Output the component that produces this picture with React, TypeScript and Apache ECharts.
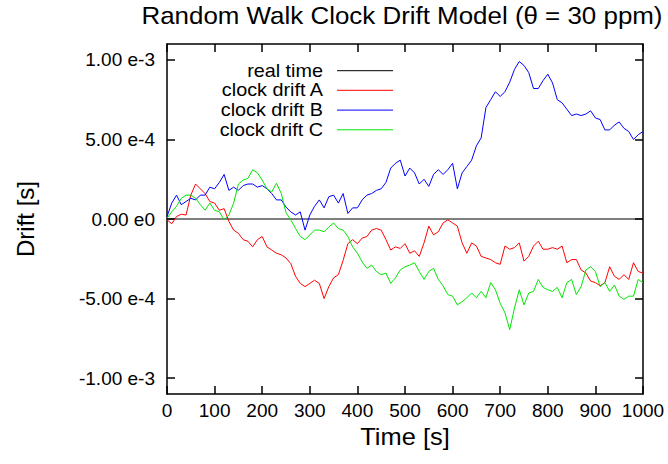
import React, { useEffect, useRef } from "react";
import * as echarts from "echarts";

const TIME_S = [
  0, 10, 20, 30, 40, 50, 60, 70, 80, 90,
  100, 110, 120, 130, 140, 150, 160, 170, 180, 190,
  200, 210, 220, 230, 240, 250, 260, 270, 280, 290,
  300, 310, 320, 330, 340, 350, 360, 370, 380, 390,
  400, 410, 420, 430, 440, 450, 460, 470, 480, 490,
  500, 510, 520, 530, 540, 550, 560, 570, 580, 590,
  600, 610, 620, 630, 640, 650, 660, 670, 680, 690,
  700, 710, 720, 730, 740, 750, 760, 770, 780, 790,
  800, 810, 820, 830, 840, 850, 860, 870, 880, 890,
  900, 910, 920, 930, 940, 950, 960, 970, 980, 990,
  1000,
];

// drift values in units of 1e-4 s
const DRIFT_A = [
  -0.05, -0.3, 0.15, 0.3, 0.25, 1.5, 2.2, 1.9, 1.6, 1.1,
  1.0, 0.55, 0.65, -0.15, -0.7, -0.9, -1.3, -1.4, -1.75, -1.3,
  -1.1, -1.75, -1.95, -2.15, -2.25, -2.45, -2.8, -3.6, -4.05, -4.25,
  -4.05, -3.85, -4.05, -5.0, -4.25, -3.7, -3.5, -2.6, -1.55, -1.3,
  -1.55, -1.2, -1.1, -0.7, -0.6, -0.7, -1.3, -1.95, -1.75, -1.85,
  -1.55, -2.15, -2.0, -2.35, -1.5, -0.45, -1.0, -0.8, -0.25, -0.05,
  -0.25, -0.45, -1.5, -2.15, -1.5, -1.7, -2.35, -2.45, -2.55, -2.75,
  -2.85, -1.7, -1.9, -1.8, -1.5, -2.65, -2.35, -1.7, -1.4, -1.9,
  -1.9, -1.8, -1.9, -1.7, -2.75, -2.55, -2.55, -3.2, -3.4, -3.9,
  -4.0, -4.2, -4.0, -3.0, -3.6, -3.8, -3.5, -3.8, -2.75, -3.3,
  -3.4,
];

const DRIFT_B = [
  0.15, 1.0, 1.5, 0.9, 1.1, 1.3, 1.2, 1.5, 1.5, 2.0,
  1.9, 2.3, 2.8, 1.8, 2.0, 1.8, 2.1, 2.2, 2.2, 2.0,
  2.1, 1.9, 1.6, 1.2, 1.2, 0.75, 0.45, 0.25, 0.45, -0.7,
  0.25, 0.8, 1.2, 0.7, 1.4, 1.5, 1.0, 1.6, 0.35, 0.7,
  0.7, 1.2, 1.5, 1.6, 1.8, 1.9, 2.3, 3.2, 3.5, 3.7,
  2.7, 3.2, 2.9, 2.2, 2.5, 2.05, 2.8, 3.1, 2.8, 3.1,
  3.5, 1.9, 2.9, 3.3, 3.7, 4.6, 5.1, 7.0, 7.5, 8.0,
  7.7, 8.0, 8.6, 9.4, 9.9, 9.65, 9.2, 8.2, 8.2, 8.7,
  9.1, 8.55, 7.5, 7.3, 6.9, 6.5, 6.6, 6.5, 6.6, 6.8,
  6.35, 6.25, 5.6, 5.6, 5.9, 6.1, 5.7, 5.5, 5.0, 5.3,
  5.5,
];

const DRIFT_C = [
  0.05, 0.45, 0.8, 1.3, 1.5, 1.5, 1.3, 0.9, 0.55, 1.0,
  0.55, 0.45, -0.05, 0.25, 1.0, 2.2, 2.45, 2.55, 3.1, 2.9,
  2.45, 1.9, 1.7, 2.25, 1.6, 0.4, -0.05, -0.6, -1.1, -1.3,
  -1.0, -0.7, -0.7, -0.8, -0.5, -0.25, -0.6, -0.7, -1.1, -1.75,
  -2.15, -2.7, -3.1, -2.9, -3.3, -3.5, -3.4, -4.05, -3.7, -3.2,
  -3.0, -2.9, -2.75, -3.3, -3.8, -3.3, -3.1, -3.8, -4.2, -4.75,
  -4.85, -5.4, -5.2, -4.95, -4.65, -4.95, -4.55, -4.95, -4.0, -4.45,
  -5.3, -5.9, -6.95, -5.6, -4.45, -5.4, -4.65, -4.55, -3.8, -4.3,
  -4.45, -4.55, -4.3, -4.95, -4.0, -3.8, -4.75, -4.25, -3.2, -3.0,
  -3.3, -4.25, -4.0, -4.55, -4.15, -4.85, -5.05, -4.85, -4.85, -3.8,
  -4.0,
];

const REAL_TIME_T = [0, 1000];
const REAL_TIME_V = [0, 0];

const UNIT = 1e-4;

const Y_TICKS = [-1e-3, -5e-4, 0, 5e-4, 1e-3];
const Y_TICK_LABELS = ["-1.00 e-3", "-5.00 e-4", "0.00 e0", "5.00 e-4", "1.00 e-3"];

const SERIES_NAMES = ["real time", "clock drift A", "clock drift B", "clock drift C"];
const SERIES_COLORS = ["#000000", "#ff0000", "#0000ff", "#00e600"];

const FONT = '"Liberation Sans", Arial, Helvetica, sans-serif';

export default function App() {
  const ref = useRef<HTMLDivElement>(null);

  useEffect(() => {
    if (!ref.current) return;
    const chart = echarts.init(ref.current, null, { renderer: "svg" });

    const toPairs = (vals: number[]) => TIME_S.map((t, i) => [t, vals[i] * UNIT]);

    const fmtY = (v: number) => {
      const i = Y_TICKS.findIndex((t) => Math.abs(t - v) < 1e-9);
      return i >= 0 ? Y_TICK_LABELS[i] : "";
    };

    const legendRows = [70.7, 90.3, 110.1, 129.8];

    const legendGraphics: any[] = [];
    SERIES_NAMES.forEach((name, i) => {
      legendGraphics.push({
        type: "text",
        x: 323,
        y: legendRows[i],
        scaleX: 1.1,
        style: {
          text: name,
          textAlign: "right",
          textVerticalAlign: "middle",
          font: `18px ${FONT}`,
          fill: "#000",
        },
      });
      legendGraphics.push({
        type: "line",
        shape: { x1: 337, y1: legendRows[i], x2: 393, y2: legendRows[i] },
        style: { stroke: SERIES_COLORS[i], lineWidth: 1 },
      });
    });

    const axisLineStyle = { color: "#000", width: 1.5 };

    chart.setOption({
      animation: false,
      backgroundColor: "#fff",
      textStyle: { fontFamily: FONT },
      grid: { left: 167, right: 25, top: 44, bottom: 70, containLabel: false },
      xAxis: [
        {
          type: "value",
          min: 0,
          max: 1000,
          interval: 100,
          position: "bottom",
          axisLine: { show: true, onZero: false, lineStyle: axisLineStyle },
          axisTick: { show: true, inside: true, length: 8, lineStyle: axisLineStyle },
          axisLabel: {
            color: "#000",
            fontSize: 19,
            margin: 7,
            fontFamily: FONT,
            showMaxLabel: true,
            formatter: (v: number) => String(v),
          },
          splitLine: { show: false },
        },
        {
          type: "value",
          min: 0,
          max: 1000,
          interval: 100,
          position: "top",
          axisLine: { show: true, onZero: false, lineStyle: axisLineStyle },
          axisTick: { show: true, inside: true, length: 8, lineStyle: axisLineStyle },
          axisLabel: { show: false },
          splitLine: { show: false },
        },
      ],
      yAxis: [
        {
          type: "value",
          min: -1.1e-3,
          max: 1.1e-3,
          position: "left",
          axisLine: { show: true, onZero: false, lineStyle: axisLineStyle },
          axisTick: {
            show: true,
            inside: true,
            length: 8,
            lineStyle: axisLineStyle,
            customValues: Y_TICKS,
          },
          axisLabel: {
            color: "#000",
            fontSize: 19,
            margin: 12,
            fontFamily: FONT,
            customValues: Y_TICKS,
            formatter: fmtY,
          },
          splitLine: { show: false },
        },
        {
          type: "value",
          min: -1.1e-3,
          max: 1.1e-3,
          position: "right",
          axisLine: { show: true, onZero: false, lineStyle: axisLineStyle },
          axisTick: {
            show: true,
            inside: true,
            length: 8,
            lineStyle: axisLineStyle,
            customValues: Y_TICKS,
          },
          axisLabel: { show: false },
          splitLine: { show: false },
        },
      ],
      graphic: [
        {
          type: "text",
          x: 402,
          y: 15,
          scaleX: 1.08,
          style: {
            text: "Random Walk Clock Drift Model (θ = 30 ppm)",
            textAlign: "center",
            textVerticalAlign: "middle",
            font: `24px ${FONT}`,
            fill: "#000",
          },
        },
        {
          type: "text",
          x: 405,
          y: 437,
          scaleX: 1.06,
          style: {
            text: "Time [s]",
            textAlign: "center",
            textVerticalAlign: "middle",
            font: `24px ${FONT}`,
            fill: "#000",
          },
        },
        {
          type: "text",
          x: 25,
          y: 219,
          rotation: Math.PI / 2,
          style: {
            text: "Drift [s]",
            textAlign: "center",
            textVerticalAlign: "middle",
            font: `24px ${FONT}`,
            fill: "#000",
          },
        },
        ...legendGraphics,
      ],
      series: [
        {
          name: SERIES_NAMES[0],
          type: "line",
          data: REAL_TIME_T.map((t, i) => [t, REAL_TIME_V[i]]),
          showSymbol: false,
          symbol: "none",
          lineStyle: { color: SERIES_COLORS[0], width: 1 },
          z: 1,
        },
        {
          name: SERIES_NAMES[1],
          type: "line",
          data: toPairs(DRIFT_A),
          showSymbol: false,
          symbol: "none",
          lineStyle: { color: SERIES_COLORS[1], width: 1 },
          z: 2,
        },
        {
          name: SERIES_NAMES[2],
          type: "line",
          data: toPairs(DRIFT_B),
          showSymbol: false,
          symbol: "none",
          lineStyle: { color: SERIES_COLORS[2], width: 1 },
          z: 3,
        },
        {
          name: SERIES_NAMES[3],
          type: "line",
          data: toPairs(DRIFT_C),
          showSymbol: false,
          symbol: "none",
          lineStyle: { color: SERIES_COLORS[3], width: 1 },
          z: 4,
        },
      ],
    });

    return () => {
      chart.dispose();
    };
  }, []);

  return (
    <div
      ref={ref}
      style={{ position: "fixed", left: 0, top: 0, width: 668, height: 464 }}
    />
  );
}
